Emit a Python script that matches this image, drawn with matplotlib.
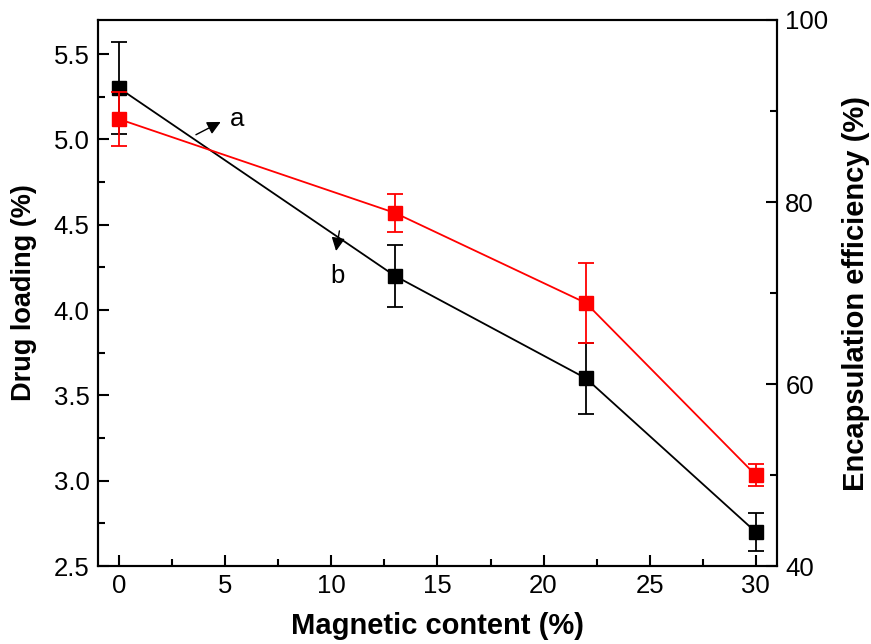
import matplotlib
matplotlib.use("Agg")
import matplotlib.pyplot as plt
from matplotlib.ticker import MultipleLocator

plt.rcParams['font.family'] = ['Liberation Sans', 'DejaVu Sans']

magnetic = [0, 13, 22, 30]
drug_loading = [5.30, 4.20, 3.60, 2.70]
drug_err = [0.27, 0.18, 0.21, 0.11]
encap_eff = [89.1, 78.8, 68.9, 50.0]
encap_err = [3.0, 2.1, 4.4, 1.2]

fig = plt.figure(figsize=(8.71, 6.44), dpi=100)
ax = fig.add_axes([0.1125, 0.121, 0.7795, 0.848])
ax2 = ax.twinx()

ax.errorbar(magnetic, drug_loading, yerr=drug_err, color='black', marker='s',
            markersize=10, lw=1.3, elinewidth=1.3, capsize=6, capthick=1.3, zorder=3)
ax2.errorbar(magnetic, encap_eff, yerr=encap_err, color='red', marker='s',
             markersize=10, lw=1.3, elinewidth=1.3, capsize=6, capthick=1.3, zorder=3)

ax.set_xlim(-1, 31)
ax.set_ylim(2.5, 5.7)
ax2.set_ylim(40, 100)

ax.xaxis.set_major_locator(MultipleLocator(5))
ax.xaxis.set_minor_locator(MultipleLocator(2.5))
ax.yaxis.set_major_locator(MultipleLocator(0.5))
ax.yaxis.set_minor_locator(MultipleLocator(0.25))
ax2.yaxis.set_major_locator(MultipleLocator(20))
ax2.yaxis.set_minor_locator(MultipleLocator(10))
ax.yaxis.set_major_formatter(matplotlib.ticker.FormatStrFormatter('%.1f'))

for a in (ax, ax2):
    for s in a.spines.values():
        s.set_linewidth(1.5)
ax.tick_params(axis='both', which='major', direction='in', length=8, width=1.5, labelsize=18.5, pad=6)
ax.tick_params(axis='both', which='minor', direction='in', length=5, width=1.5)
ax.tick_params(top=False, right=False, which='both')
ax2.tick_params(axis='y', which='major', direction='in', length=8, width=1.5, labelsize=18.5, pad=6)
ax2.tick_params(axis='y', which='minor', direction='in', length=5, width=1.5)

ax.set_xlabel('Magnetic content (%)', fontsize=21, fontweight='bold', labelpad=10)
ax.set_ylabel('Drug loading (%)', fontsize=19.5, fontweight='bold', labelpad=12)
ax2.set_ylabel('Encapsulation efficiency (%)', fontsize=21, fontweight='bold', labelpad=10)

ax.annotate('', xy=(4.9, 5.11), xytext=(3.5, 5.02),
            arrowprops=dict(arrowstyle='-|>', color='black', lw=1, mutation_scale=20))
ax.text(5.2, 5.12, 'a', fontsize=18.5, ha='left', va='center')
ax.annotate('', xy=(10.2, 4.33), xytext=(10.4, 4.48),
            arrowprops=dict(arrowstyle='-|>', color='black', lw=1, mutation_scale=20))
ax.text(10.3, 4.2, 'b', fontsize=18.5, ha='center', va='center')

fig.savefig('out.png', dpi=100)
